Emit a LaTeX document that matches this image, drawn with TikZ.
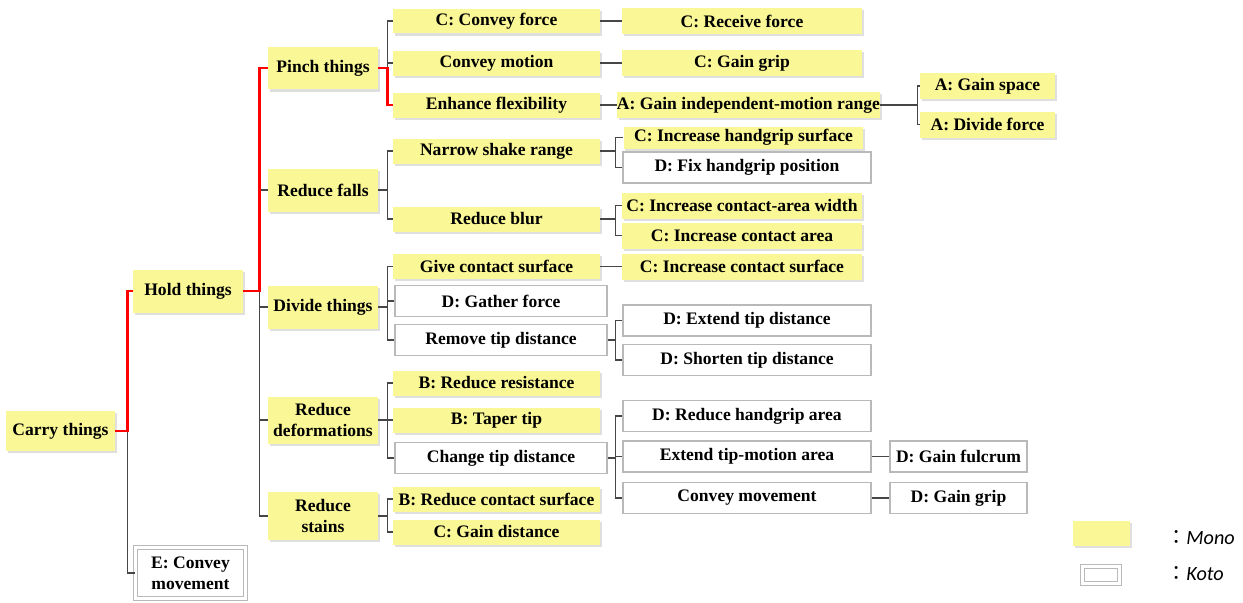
\documentclass[tikz,border=0pt]{standalone}
\usepackage{fontspec}
\setmainfont{LiberationSerif}[Extension=.ttf, UprightFont=*-Regular, BoldFont=*-Bold, ItalicFont=*-Italic, BoldItalicFont=*-BoldItalic]
\newfontfamily\legfont{Carlito}
\newfontfamily\cjk{Noto Sans CJK JP}
\usetikzlibrary{positioning, shadows}

\definecolor{monoyellow}{RGB}{250,247,150}
\definecolor{kotogray}{RGB}{185,185,185}
\definecolor{treegray}{RGB}{70,70,70}

\begin{document}
\begin{tikzpicture}[
    x=0.02cm, y=-0.02cm,
    font=\bfseries,
    mono/.style={
        fill=monoyellow,
        inner sep=0pt,
        align=center,
        drop shadow={shadow xshift=1pt, shadow yshift=-1.2pt, opacity=0.25}
    },
    koto/.style={
        draw=kotogray,
        line width=1.1pt,
        fill=white,
        inner sep=0pt,
        align=center
    },
    kotodbl/.style={
        draw=kotogray,
        double=white,
        double distance=1.6pt,
        line width=0.7pt,
        inner sep=0pt,
        align=center
    },
    topbox/.style={minimum width=2.18cm, minimum height=0.8cm},
    lvtwo/.style={minimum width=2.2cm, minimum height=0.86cm},
    lvthree/.style={minimum width=4.14cm, minimum height=0.5cm},
    lvthreek/.style={minimum width=4.24cm, minimum height=0.62cm},
    lvfour/.style={minimum width=4.8cm, minimum height=0.52cm},
    lvfourk/.style={minimum width=4.96cm, minimum height=0.62cm},
    lvfive/.style={minimum width=2.7cm, minimum height=0.52cm},
    lvfivek/.style={minimum width=2.74cm, minimum height=0.62cm},
    tree/.style={draw=treegray, line width=0.6pt},
    hot/.style={draw=red, line width=1.6pt},
    legend/.style={anchor=west, font=\legfont\mdseries\itshape\fontsize{11.5}{13}\selectfont}
]

\useasboundingbox (0,0) rectangle (1243,602);

% --- ROOT AND FIRST LEVEL -------------------------------------

\node[mono, topbox] (carry) at (60.5,431) {Carry things};
\node[mono, lvtwo] (hold) at (188,291) {Hold things};
\node[kotodbl, minimum width=2.2cm, minimum height=1.02cm] (convey) at (190.5,573) {E: Convey\\movement};

% --- SECOND LEVEL ---------------------------------------------

\node[mono, lvtwo] (pinch) at (323,68) {Pinch things};
\node[mono, lvtwo] (falls) at (323,190) {Reduce falls};
\node[mono, lvtwo] (divide) at (323,307) {Divide things};
\node[mono, lvtwo, minimum height=0.94cm] (deform) at (323,420) {Reduce\\deformations};
\node[mono, lvtwo, minimum height=0.96cm] (stains) at (323,516) {Reduce\\stains};

% --- THIRD LEVEL ----------------------------------------------

\node[mono, lvthree] (cforce) at (496.5,21) {C: Convey force};
\node[mono, lvthree] (cmotion) at (496.5,63) {Convey motion};
\node[mono, lvthree] (flex) at (496.5,105) {Enhance flexibility};
\node[mono, lvthree] (shake) at (496.5,151) {Narrow shake range};
\node[mono, lvthree] (blur) at (496.5,219) {Reduce blur};
\node[mono, lvthree] (givesurf) at (496.5,266.5) {Give contact surface};
\node[koto, lvthreek] (gather) at (501,301) {D: Gather force};
\node[koto, lvthreek] (remove) at (501,340) {Remove tip distance};
\node[mono, lvthree] (resist) at (496.5,383) {B: Reduce resistance};
\node[mono, lvthree] (taper) at (496.5,420) {B: Taper tip};
\node[koto, lvthreek] (change) at (501,458) {Change tip distance};
\node[mono, lvthree] (redsurf) at (496.5,499) {B: Reduce contact surface};
\node[mono, lvthree] (gaindist) at (496.5,532) {C: Gain distance};

% --- FOURTH LEVEL ---------------------------------------------

\node[mono, lvfour] (receive) at (742,21) {C: Receive force};
\node[mono, lvfour] (grip) at (742,63) {C: Gain grip};
\node[mono, lvfour, minimum width=5.06cm] (range) at (748.5,105) {A: Gain independent-motion range};
\node[mono, lvfour, minimum height=0.44cm] (hgsurf) at (743.5,137.5) {C: Increase handgrip surface};
\node[koto, lvfourk] (fixpos) at (747,167.5) {D: Fix handgrip position};
\node[mono, lvfour] (cawidth) at (742,205.5) {C: Increase contact-area width};
\node[mono, lvfour] (carea) at (742,235.5) {C: Increase contact area};
\node[mono, lvfour] (csurf) at (742,266.5) {C: Increase contact surface};
\node[koto, lvfourk] (extend) at (747,320.5) {D: Extend tip distance};
\node[koto, lvfourk] (shorten) at (747,360) {D: Shorten tip distance};
\node[koto, lvfourk] (hgarea) at (747,416) {D: Reduce handgrip area};
\node[koto, lvfourk] (tipmotion) at (747,456.5) {Extend tip-motion area};
\node[koto, lvfourk] (conveymv) at (747,498) {Convey movement};

% --- FIFTH LEVEL ----------------------------------------------

\node[mono, lvfive] (space) at (987.5,86) {A: Gain space};
\node[mono, lvfive] (divforce) at (987.5,124.5) {A: Divide force};
\node[koto, lvfivek] (fulcrum) at (958.5,456.5) {D: Gain fulcrum};
\node[koto, lvfivek] (gaingrip) at (958.5,498) {D: Gain grip};

% --- TREE LINES -----------------------------------------------

\draw[tree] (carry.east) -- ++(12,0) |- (convey.west);
\draw[tree] (hold.east) -- ++(16,0) |- (falls.west);
\draw[tree] (hold.east) -- ++(16,0) |- (divide.west);
\draw[tree] (hold.east) -- ++(16,0) |- (deform.west);
\draw[tree] (hold.east) -- ++(16,0) |- (stains.west);

\draw[tree] (pinch.east) -- ++(9,0) |- (cforce.west);
\draw[tree] (pinch.east) -- ++(9,0) |- (cmotion.west);
\draw[tree] (falls.east) -- ++(9,0) |- (shake.west);
\draw[tree] (falls.east) -- ++(9,0) |- (blur.west);
\draw[tree] (divide.east) -- ++(9,0) |- (givesurf.west);
\draw[tree] (divide.east) -- ++(9,0) |- (gather.west);
\draw[tree] (divide.east) -- ++(9,0) |- (remove.west);
\draw[tree] (deform.east) -- ++(9,0) |- (resist.west);
\draw[tree] (deform.east) -- ++(9,0) |- (taper.west);
\draw[tree] (deform.east) -- ++(9,0) |- (change.west);
\draw[tree] (stains.east) -- ++(9,0) |- (redsurf.west);
\draw[tree] (stains.east) -- ++(9,0) |- (gaindist.west);

\draw[tree] (cforce.east) -- (receive.west);
\draw[tree] (cmotion.east) -- (grip.west);
\draw[tree] (flex.east) -- (range.west);
\draw[tree] (shake.east) -- ++(15,0) |- (hgsurf.west);
\draw[tree] (shake.east) -- ++(15,0) |- (fixpos.west);
\draw[tree] (blur.east) -- ++(15,0) |- (cawidth.west);
\draw[tree] (blur.east) -- ++(15,0) |- (carea.west);
\draw[tree] (givesurf.east) -- (csurf.west);
\draw[tree] (remove.east) -- ++(8,0) |- (extend.west);
\draw[tree] (remove.east) -- ++(8,0) |- (shorten.west);
\draw[tree] (change.east) -- ++(8,0) |- (hgarea.west);
\draw[tree] (change.east) -- ++(8,0) |- (tipmotion.west);
\draw[tree] (change.east) -- ++(8,0) |- (conveymv.west);

\draw[tree] (range.east) -- ++(37,0) |- (space.west);
\draw[tree] (range.east) -- ++(37,0) |- (divforce.west);
\draw[tree] (tipmotion.east) -- (fulcrum.west);
\draw[tree] (conveymv.east) -- (gaingrip.west);

% --- HIGHLIGHTED PATH -----------------------------------------

\draw[hot] (carry.east) -- ++(12,0) |- (hold.west);
\draw[hot] (hold.east) -- ++(16,0) |- (pinch.west);
\draw[hot] (pinch.east) -- ++(9,0) |- (flex.west);

% --- LEGEND ---------------------------------------------------

\node[mono, minimum width=1.14cm, minimum height=0.5cm] (legmono) at (1101.5,533.5) {};
\node[legend] (legmonotxt) at (1160,538) {{\cjk ：}Mono};
\node[kotodbl, minimum width=0.74cm, minimum height=0.34cm] (legkoto) at (1101,575) {};
\node[legend] (legkototxt) at (1160,574) {{\cjk ：}Koto};

\end{tikzpicture}
\end{document}
